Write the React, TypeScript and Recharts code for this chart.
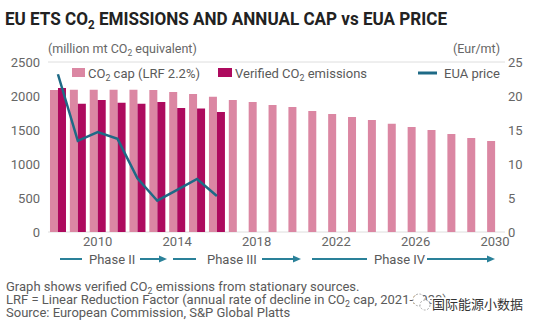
import { Bar, CartesianGrid, ComposedChart, Line, XAxis, YAxis } from "recharts";

const YEARS = [
    2008, 2009, 2010, 2011, 2012, 2013, 2014, 2015, 2016, 2017, 2018, 2019,
    2020, 2021, 2022, 2023, 2024, 2025, 2026, 2027, 2028, 2029, 2030,
];

// million mt CO2 equivalent
const CAP = [
    2090, 2092, 2092, 2092, 2092, 2088, 2059, 2029, 1990, 1941, 1912, 1868,
    1838, 1779, 1735, 1691, 1647, 1593, 1544, 1500, 1441, 1382, 1338,
];
const VERIFIED = [2118, 1887, 1941, 1902, 1885, 1912, 1822, 1818, 1765];

// Eur/mt
const EUA_PRICE = [23.2, 13.4, 14.7, 13.7, 7.9, 4.6, 6.2, 7.8, 5.3];

const LEFT_TICKS = [0, 500, 1000, 1500, 2000, 2500];
const RIGHT_TICKS = [0, 5, 10, 15, 20, 25];
const YEAR_TICKS = [2010, 2014, 2018, 2022, 2026, 2030];

const CAP_COLOR = "#db87a3";
const VERIFIED_COLOR = "#ad0a5e";
const PRICE_COLOR = "#1e6a86";
const PHASE_COLOR = "#2a8199";
const TEXT = "#5a5a5a";
const FONT = "Roboto, 'Noto Sans', sans-serif";

const data = YEARS.map((year, i) => ({
    year,
    cap: CAP[i],
    verified: VERIFIED[i] ?? null,
    price: EUA_PRICE[i] ?? null,
}));

const tick = { fill: "#666", fontSize: 13, fontFamily: FONT };

// "before CO₂ after" as one text run, the 2 dropped as a subscript
function WithCo2({ before, after, size }: { before: string; after: string; size: number }) {
    const d = size * 0.22;
    return (
        <>
            <tspan>{before + "CO"}</tspan>
            <tspan fontSize={size * 0.68} dy={d}>2</tspan>
            <tspan dy={-d}>{after}</tspan>
        </>
    );
}

function Overlay() {
    const arrow = (x1: number, x2: number, y: number, head: boolean) => (
        <g key={`${x1}`}>
            <line x1={x1} x2={head ? x2 - 6 : x2} y1={y} y2={y} stroke={PHASE_COLOR} strokeWidth={2} />
            {head && <polygon points={`${x2},${y} ${x2 - 8},${y - 3.5} ${x2 - 8},${y + 3.5}`} fill={PHASE_COLOR} />}
        </g>
    );
    return (
        <svg
            width={540}
            height={330}
            style={{ position: "absolute", left: 0, top: 0, pointerEvents: "none" }}
            fontFamily={FONT}
        >
            <text x={5} y={25} fontSize={18} fontWeight={700} fill="#222" textLength={442} lengthAdjust="spacingAndGlyphs">
                <WithCo2 before="EU ETS " after=" EMISSIONS AND ANNUAL CAP vs EUA PRICE" size={18} />
            </text>

            <text x={48} y={53} fontSize={12.5} fill="#666">
                <WithCo2 before="(million mt " after=" equivalent)" size={12.5} />
            </text>
            <text x={500} y={53} fontSize={12.5} fill="#666" textAnchor="end">
                (Eur/mt)
            </text>

            {/* legend */}
            <rect x={72} y={68} width={13} height={9} fill={CAP_COLOR} />
            <text x={88} y={78} fontSize={13} fill={TEXT}>
                <WithCo2 before="" after=" cap (LRF 2.2%)" size={13} />
            </text>
            <rect x={218} y={68} width={14} height={9} fill={VERIFIED_COLOR} />
            <text x={235} y={78} fontSize={13} fill={TEXT}>
                <WithCo2 before="Verified " after=" emissions" size={13} />
            </text>
            <line x1={418} x2={437} y1={73} y2={73} stroke={PRICE_COLOR} strokeWidth={3} />
            <text x={444} y={78} fontSize={13} fill={TEXT}>
                EUA price
            </text>

            {/* phases */}
            {arrow(60, 82, 259, false)}
            <text x={89} y={264} fontSize={13} fill={TEXT}>Phase II</text>
            {arrow(140, 167, 259, true)}
            {arrow(173, 196, 259, false)}
            <text x={207} y={264} fontSize={13} fill={TEXT}>Phase III</text>
            {arrow(262, 301, 259, true)}
            {arrow(312, 367, 259, false)}
            <text x={374} y={264} fontSize={13} fill={TEXT}>Phase IV</text>
            {arrow(427, 495, 259, true)}

            {/* notes */}
            <text x={6} y={291} fontSize={13} fill={TEXT}>
                <WithCo2 before="Graph shows verified " after=" emissions from stationary sources." size={13} />
            </text>
            <text x={6} y={304} fontSize={13} fill={TEXT}>
                <WithCo2
                    before="LRF = Linear Reduction Factor (annual rate of decline in "
                    after=" cap, 2021-2030)"
                    size={13}
                />
            </text>
            <text x={6} y={317} fontSize={13} fill={TEXT}>
                Source: European Commission, S&amp;P Global Platts
            </text>

            {/* watermark */}
            <circle cx={419} cy={300} r={6} fill="white" stroke="#999" strokeWidth={0.8} strokeDasharray="2 1.5" />
            <circle cx={425} cy={305} r={5} fill="white" stroke="#999" strokeWidth={0.8} strokeDasharray="2 1.5" />
            <text
                x={432}
                y={309}
                fontSize={13}
                fontFamily="'Noto Sans CJK SC', sans-serif"
                fill="#333"
                stroke="white"
                strokeWidth={3}
                paintOrder="stroke"
            >
                国际能源小数据
            </text>
        </svg>
    );
}

export default function App() {
    return (
        <div style={{ position: "absolute", left: 0, top: 0, width: 540, height: 330, background: "#fff" }}>
            <ComposedChart
                width={540}
                height={252}
                data={data}
                margin={{ top: 62, right: 0, bottom: 0, left: 0 }}
                barCategoryGap="10%"
                barGap={0}
            >
                <CartesianGrid vertical={false} stroke="#dedede" />
                <XAxis
                    dataKey="year"
                    ticks={YEAR_TICKS}
                    interval={0}
                    height={20}
                    axisLine={false}
                    tickLine={false}
                    tickSize={0}
                    tickMargin={5}
                    tick={tick}
                />
                <YAxis
                    yAxisId="left"
                    width={48}
                    domain={[0, 2500]}
                    ticks={LEFT_TICKS}
                    axisLine={false}
                    tickLine={false}
                    tickSize={0}
                    tickMargin={8}
                    tick={tick}
                />
                <YAxis
                    yAxisId="right"
                    orientation="right"
                    width={35}
                    domain={[0, 25]}
                    ticks={RIGHT_TICKS}
                    axisLine={false}
                    tickLine={false}
                    tickSize={0}
                    tickMargin={3}
                    tick={tick}
                />
                <Bar yAxisId="left" dataKey="cap" fill={CAP_COLOR} isAnimationActive={false} />
                <Bar yAxisId="left" dataKey="verified" fill={VERIFIED_COLOR} isAnimationActive={false} />
                <Line
                    yAxisId="right"
                    dataKey="price"
                    stroke={PRICE_COLOR}
                    strokeWidth={2.5}
                    dot={false}
                    connectNulls={false}
                    isAnimationActive={false}
                />
            </ComposedChart>
            <Overlay />
        </div>
    );
}
